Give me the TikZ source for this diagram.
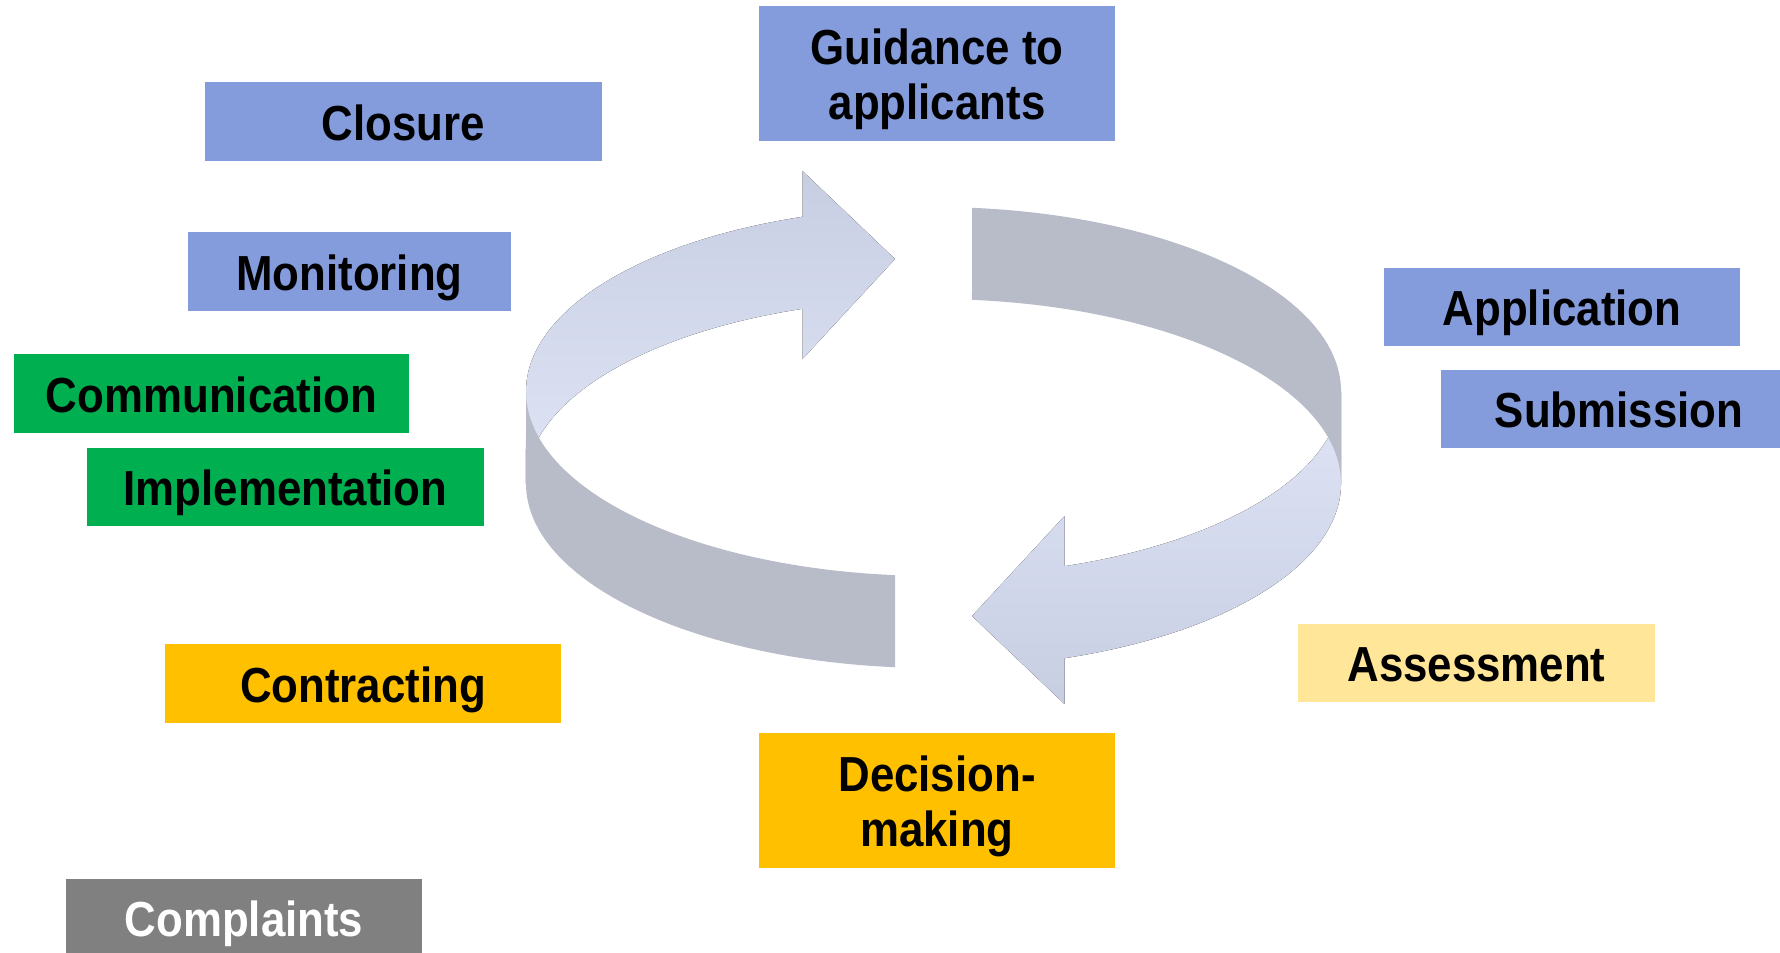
\documentclass[tikz,border=0pt]{standalone}
\usepackage{fontspec}
\newfontfamily\stagefont{Liberation Sans}[FakeStretch=0.89]
\usepackage{tikz}
\usetikzlibrary{positioning}

\definecolor{bluebox}{RGB}{132,156,220}
\definecolor{greenbox}{RGB}{0,176,80}
\definecolor{orangebox}{RGB}{255,192,0}
\definecolor{yellowbox}{RGB}{255,230,153}
\definecolor{greybox}{RGB}{128,128,128}
\definecolor{bandgrey}{RGB}{184,188,201}
\definecolor{bandlight}{RGB}{223,228,246}
\definecolor{banddark}{RGB}{200,206,226}

\tikzset{
  stage/.style={inner sep=0pt, minimum height=0.78cm, align=center,
    text height=10.6pt, text depth=0pt,
    font=\stagefont\bfseries\fontsize{14}{15.5}\selectfont},
  tall/.style={minimum height=1.35cm, text height=26.1pt},
  ellarc/.style={x radius=407.5, y radius=184.5}
}

\begin{document}
\begin{tikzpicture}[x=0.01cm,y=-0.01cm]
		\useasboundingbox (0,0) rectangle (1780,952);
		\fill[top color=banddark,bottom color=bandlight] (526,391.5) arc[start angle=180,end angle=251.25,ellarc] -- (802.5,171) -- (895,259) -- (802.5,359) -- (802.5,308.8) arc[start angle=251.25,end angle=180,ellarc] -- cycle;
		\fill[bandgrey] (526,391.5) arc[start angle=180,end angle=95.42,ellarc] -- (895,667.2) arc[start angle=95.42,end angle=180,ellarc] -- cycle;
		\fill[top color=bandlight,bottom color=banddark] (1341,391.5) arc[start angle=0,end angle=71.25,ellarc] -- (1064.5,516) -- (972,616) -- (1064.5,704) -- (1064.5,658.2) arc[start angle=71.25,end angle=0,ellarc] -- cycle;
		\fill[bandgrey] (972,207.8) arc[start angle=275.42,end angle=360,ellarc] -- (1341,483.5) arc[start angle=0,end angle=-84.58,ellarc] -- cycle;
		\node[stage,tall,fill=bluebox,minimum width=3.56cm] (guid) at (937,73.5) {Guidance to\\applicants};
		\node[stage,fill=bluebox,minimum width=3.97cm] (closure) at (403.5,121.5) {Closure};
		\node[stage,fill=bluebox,minimum width=3.23cm] (monitor) at (349.5,271.5) {Monitoring};
		\node[stage,fill=bluebox,minimum width=3.56cm] (appl) at (1562,307) {Application};
		\node[stage,fill=bluebox,minimum width=3.56cm] (subm) at (1619,409) {Submission};
		\node[stage,fill=greenbox,minimum width=3.95cm] (comm) at (211.5,393.5) {Communication};
		\node[stage,fill=greenbox,minimum width=3.97cm] (impl) at (285.5,487) {Implementation};
		\node[stage,fill=orangebox,minimum width=3.96cm] (contr) at (363,683.5) {Contracting};
		\node[stage,fill=yellowbox,minimum width=3.57cm] (assess) at (1476.5,663) {Assessment};
		\node[stage,tall,fill=orangebox,minimum width=3.56cm] (decis) at (937,800.5) {Decision-\\making};
		\node[stage,fill=greybox,text=white,minimum width=3.56cm] (compl) at (244,918) {Complaints};
	\end{tikzpicture}
\end{document}
